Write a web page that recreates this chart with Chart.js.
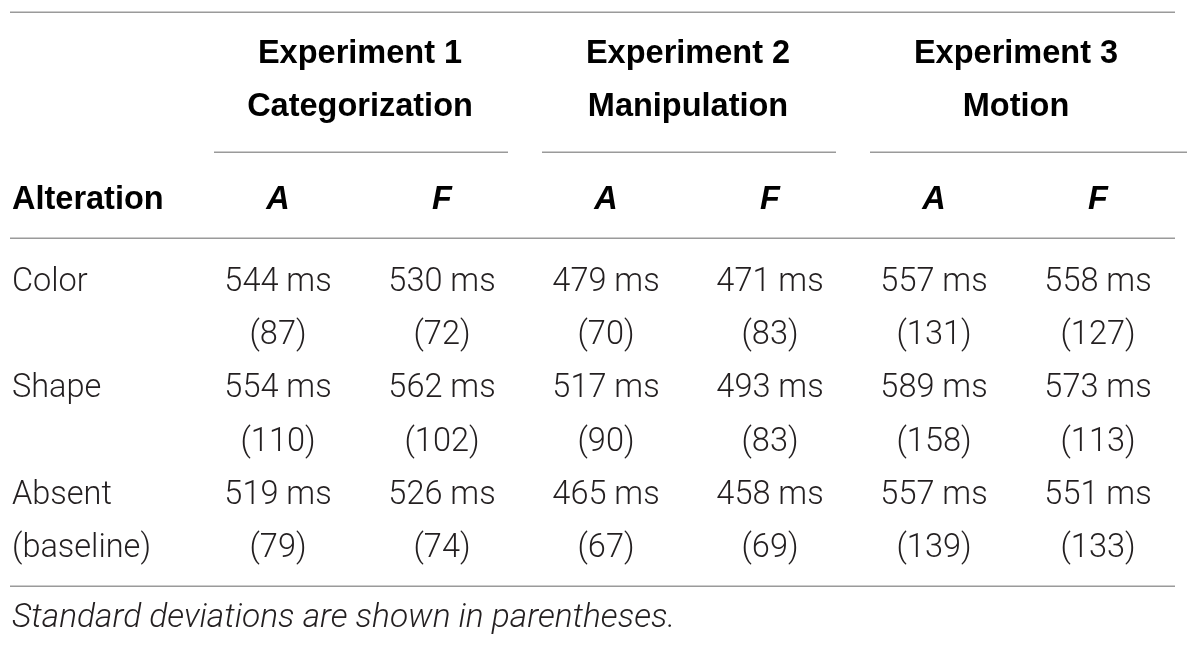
<!DOCTYPE html>
<html>
<head>
<meta charset="utf-8">
<script src="https://cdn.jsdelivr.net/npm/chart.js@4.4.1/dist/chart.umd.min.js"></script>
<style>
  html, body { margin: 0; padding: 0; background: #ffffff; }
  #wrap { width: 1200px; height: 647px; }
</style>
</head>
<body>
<div id="wrap"><canvas id="c" width="1200" height="647"></canvas></div>
<script>
// ---- data ----
const experiments = ['Experiment 1', 'Experiment 2', 'Experiment 3'];
const tasks = ['Categorization', 'Manipulation', 'Motion'];
const conditions = ['A', 'F'];
const alterations = ['Color', 'Shape', 'Absent'];
const alterationNotes = ['', '', '(baseline)'];
const rowHeader = 'Alteration';
// mean RT (ms) per alteration row, for columns [E1-A, E1-F, E2-A, E2-F, E3-A, E3-F]
const meansColor  = [544, 530, 479, 471, 557, 558];
const meansShape  = [554, 562, 517, 493, 589, 573];
const meansAbsent = [519, 526, 465, 458, 557, 551];
const sdColor  = [87, 72, 70, 83, 131, 127];
const sdShape  = [110, 102, 90, 83, 158, 113];
const sdAbsent = [79, 74, 67, 69, 139, 133];
const footnote = 'Standard deviations are shown in parentheses.';

const means = [meansColor, meansShape, meansAbsent];
const sds = [sdColor, sdShape, sdAbsent];

// column keys for category scale
const colKeys = ['label'];
experiments.forEach((e, i) => conditions.forEach(c => colKeys.push('E' + (i + 1) + c)));

// ---- layout (row slots in line units) ----
const ROW = { topRule: -0.75, exp: 0, task: 1, groupRule: 1.88, cond: 2.74, headRule: 3.49,
              data0: 4.29, bottomRule: 10.02, note: 10.6 };

// build a scatter dataset: one point per text cell (value line and sd line)
const meanPts = [], sdPts = [];
alterations.forEach((a, r) => {
  for (let c = 0; c < 6; c++) {
    meanPts.push({ x: colKeys[c + 1], y: ROW.data0 + r * 2, text: means[r][c] + ' ms' });
    sdPts.push({ x: colKeys[c + 1], y: ROW.data0 + r * 2 + 1, text: '(' + sds[r][c] + ')' });
  }
});

const BODY_FONT = '300 32.5px Roboto, "Liberation Sans", sans-serif';
const BOLD_FONT = 'bold 32.5px "Liberation Sans", Arial, sans-serif';
const BOLD_ITALIC_FONT = 'italic bold 32.5px "Liberation Sans", Arial, sans-serif';
const NOTE_FONT = 'italic 300 33.5px Roboto, "Liberation Sans", sans-serif';
const TEXT = '#231f20';
const RULE = '#9a9a9a';

const tablePlugin = {
  id: 'tablePlugin',
  afterDatasetsDraw(chart) {
    const ctx = chart.ctx;
    const xs = chart.scales.x, ys = chart.scales.y;
    const area = chart.chartArea;
    const colW = xs.getPixelForValue(2) - xs.getPixelForValue(1);
    const ruleL = area.left - 22, ruleR = area.right - 5;
    ctx.save();
    ctx.textBaseline = 'middle';

    // rules (positions are rule slots, not data)
    ctx.strokeStyle = RULE;
    ctx.lineWidth = 1.6;
    const hline = (x1, x2, yv) => {
      const y = Math.round(ys.getPixelForValue(yv)) + 0.2;
      ctx.beginPath(); ctx.moveTo(x1, y); ctx.lineTo(x2, y); ctx.stroke();
    };
    hline(ruleL, ruleR, ROW.topRule - 0.04);
    hline(ruleL, ruleR, ROW.headRule - 0.04);
    hline(ruleL, ruleR, ROW.bottomRule - 0.04);
    experiments.forEach((e, i) => {
      const xa = xs.getPixelForValue(1 + i * 2), xf = xs.getPixelForValue(2 + i * 2);
      const l = xa - colW / 2 + 18;
      const r = (i === experiments.length - 1) ? chart.width - 13 : xf + colW / 2 - 16;
      hline(l, r, ROW.groupRule - 0.04);
    });

    // group headers
    ctx.fillStyle = '#000';
    ctx.font = BOLD_FONT;
    ctx.textAlign = 'center';
    experiments.forEach((e, i) => {
      const cx = (xs.getPixelForValue(1 + i * 2) + xs.getPixelForValue(2 + i * 2)) / 2;
      ctx.fillText(e, cx, ys.getPixelForValue(ROW.exp));
      ctx.fillText(tasks[i], cx, ys.getPixelForValue(ROW.task));
    });
    // condition header row
    ctx.textAlign = 'left';
    ctx.fillText(rowHeader, ruleL + 2, ys.getPixelForValue(ROW.cond));
    ctx.font = BOLD_ITALIC_FONT;
    ctx.textAlign = 'center';
    for (let c = 1; c < colKeys.length; c++) {
      ctx.fillText(conditions[(c - 1) % 2], xs.getPixelForValue(c), ys.getPixelForValue(ROW.cond));
    }

    // row labels
    ctx.fillStyle = TEXT;
    ctx.font = BODY_FONT;
    ctx.textAlign = 'left';
    alterations.forEach((a, r) => {
      ctx.fillText(a, ruleL + 2, ys.getPixelForValue(ROW.data0 + r * 2));
      if (alterationNotes[r]) ctx.fillText(alterationNotes[r], ruleL + 2, ys.getPixelForValue(ROW.data0 + r * 2 + 1));
    });

    // cells from dataset elements
    ctx.textAlign = 'center';
    chart.data.datasets.forEach((ds, di) => {
      const meta = chart.getDatasetMeta(di);
      meta.data.forEach((el, j) => {
        ctx.fillText(ds.data[j].text, el.x, el.y);
      });
    });

    // footnote
    ctx.font = NOTE_FONT;
    ctx.textAlign = 'left';
    ctx.fillText(footnote, ruleL + 2, ys.getPixelForValue(ROW.note));
    ctx.restore();
  }
};

new Chart(document.getElementById('c'), {
  type: 'scatter',
  data: {
    labels: colKeys,
    datasets: [
      { data: meanPts, pointRadius: 0, showLine: false },
      { data: sdPts, pointRadius: 0, showLine: false }
    ]
  },
  options: {
    responsive: false,
    animation: false,
    devicePixelRatio: 1,
    layout: { padding: { left: 32, right: 20, top: 0, bottom: 0 } },
    plugins: { legend: { display: false }, tooltip: { enabled: false }, title: { display: false } },
    events: [],
    scales: {
      x: { type: 'category', labels: colKeys, offset: true, display: false },
      y: { type: 'linear', reverse: true, min: -54 / 53.3, max: (647 - 54) / 53.3, display: false }
    }
  },
  plugins: [tablePlugin]
});
</script>
</body>
</html>
